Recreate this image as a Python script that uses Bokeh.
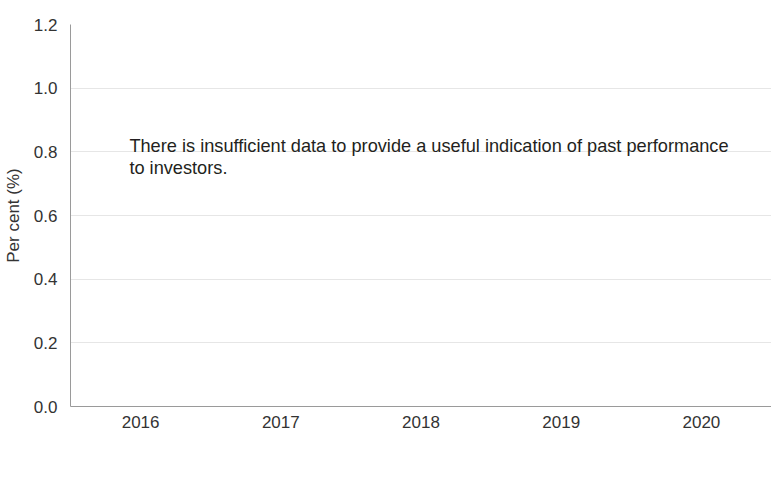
from bokeh.plotting import figure
from bokeh.models import (ColumnDataSource, FixedTicker, CustomJSTickFormatter,
                          Label, Legend, LegendItem, Range1d)
from bokeh.embed import file_html
from bokeh.resources import INLINE

years = ["2016", "2017", "2018", "2019", "2020"]
fund = [float("nan")] * 5
y_ticks = [0.0, 0.2, 0.4, 0.6, 0.8, 1.0, 1.2]
message = "There is insufficient data to provide a useful indication of past performance\nto investors."

FONT = "Liberation Sans"
TXT = "#333333"

p = figure(x_range=years, y_range=Range1d(0, 1.2), width=771, height=477,
           frame_width=701, frame_height=382,
           output_backend="svg", toolbar_location=None,
           min_border_left=70, min_border_right=0, min_border_top=24,
           min_border_bottom=0)
p.outline_line_color = None
p.background_fill_color = "white"

src = ColumnDataSource(dict(x=years, top=fund))
r = p.vbar(x="x", top="top", width=0.6, source=src, color="#231f20")

p.yaxis.ticker = FixedTicker(ticks=y_ticks)
p.yaxis.formatter = CustomJSTickFormatter(code="return tick.toFixed(1);")
p.yaxis.axis_label = "Per cent (%)"
p.yaxis.axis_label_text_font = FONT
p.yaxis.axis_label_text_font_style = "normal"
p.yaxis.axis_label_text_font_size = "17px"
p.yaxis.axis_label_text_color = TXT
p.yaxis.axis_label_standoff = 8

for ax in (p.xaxis[0], p.yaxis[0]):
    ax.axis_line_color = "#9a9a9a"
    ax.major_tick_line_color = None
    ax.minor_tick_line_color = None
    ax.major_label_text_font = FONT
    ax.major_label_text_font_size = "17px"
    ax.major_label_text_color = TXT
p.yaxis.major_label_standoff = 7
p.xaxis.major_label_standoff = 3

p.xgrid.grid_line_color = None
p.ygrid.grid_line_color = "#e6e6e6"
p.ygrid.ticker = FixedTicker(ticks=y_ticks)

lab = Label(x=0.42, y=0.85, text=message, text_font=FONT, text_font_size="18.2px",
            text_color="#231f20", text_baseline="top", text_line_height=1.1)
p.add_layout(lab)

legend = Legend(items=[LegendItem(label="Fund", renderers=[r])],
                location=(-8, 0), border_line_color=None,
                background_fill_alpha=0, glyph_width=21, glyph_height=20,
                label_text_font=FONT, label_text_font_size="20px",
                label_text_color=TXT, padding=0, margin=0, label_standoff=6,
                label_height=20, orientation="horizontal")
p.add_layout(legend, "below")

open("out.html", "w").write(file_html(p, INLINE))
